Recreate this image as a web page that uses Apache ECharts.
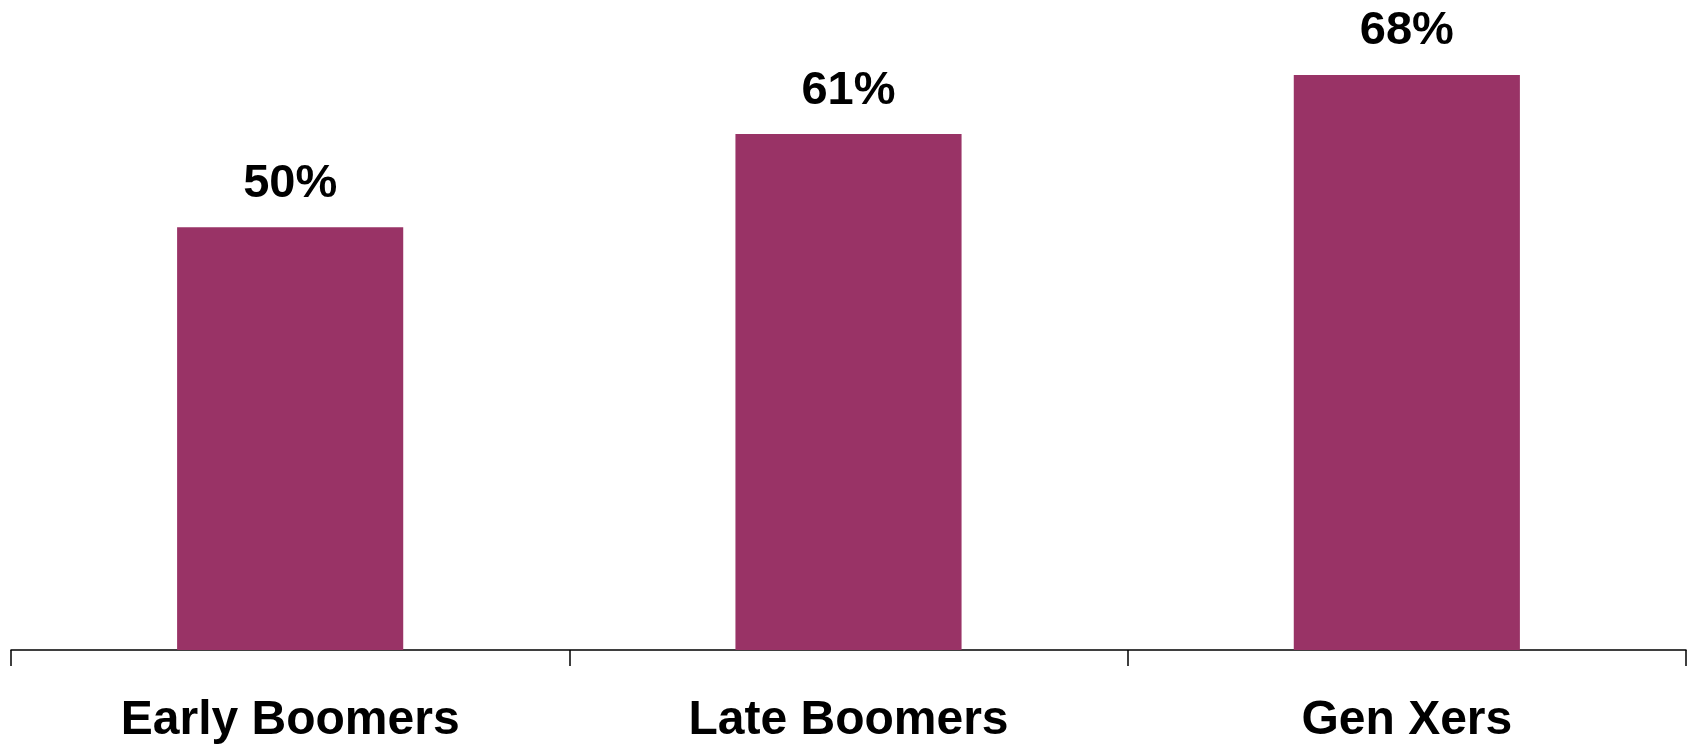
<!DOCTYPE html>
<html>
<head>
<meta charset="utf-8">
<script src="https://cdn.jsdelivr.net/npm/echarts@6/dist/echarts.min.js"></script>
<style>
  html, body { margin: 0; padding: 0; background: #fff; }
  #main { width: 1693px; height: 747px; }
</style>
</head>
<body>
<div id="main"></div>
<script>
// chart data
const categories = ["Early Boomers", "Late Boomers", "Gen Xers"];
const shares = [50, 61, 68];

let myChart = echarts.init(document.getElementById("main"));
let option = {
  animation: false,
  grid: {
    left: 11,
    right: 7,
    top: 58,
    bottom: 97,
  },
  xAxis: {
    type: "category",
    data: categories,
    axisLine: {
      lineStyle: { color: "#000", width: 1.5 },
    },
    axisTick: {
      show: true,
      alignWithLabel: false,
      length: 16,
      lineStyle: { color: "#000", width: 1.5 },
    },
    axisLabel: {
      margin: 47,
      color: "#000",
      fontFamily: "Liberation Sans, Arial, sans-serif",
      fontWeight: "bold",
      fontSize: 48,
    },
  },
  yAxis: {
    type: "value",
    min: 0,
    max: 70,
    show: false,
    splitLine: { show: false },
  },
  series: [
    {
      type: "bar",
      data: shares,
      barWidth: "40.5%",
      itemStyle: { color: "#993366" },
      label: {
        show: true,
        position: "top",
        distance: 20,
        formatter: "{c}%",
        color: "#000",
        fontFamily: "Liberation Sans, Arial, sans-serif",
        fontWeight: "bold",
        fontSize: 47,
      },
    },
  ],
};

option && myChart.setOption(option);
</script>
</body>
</html>
